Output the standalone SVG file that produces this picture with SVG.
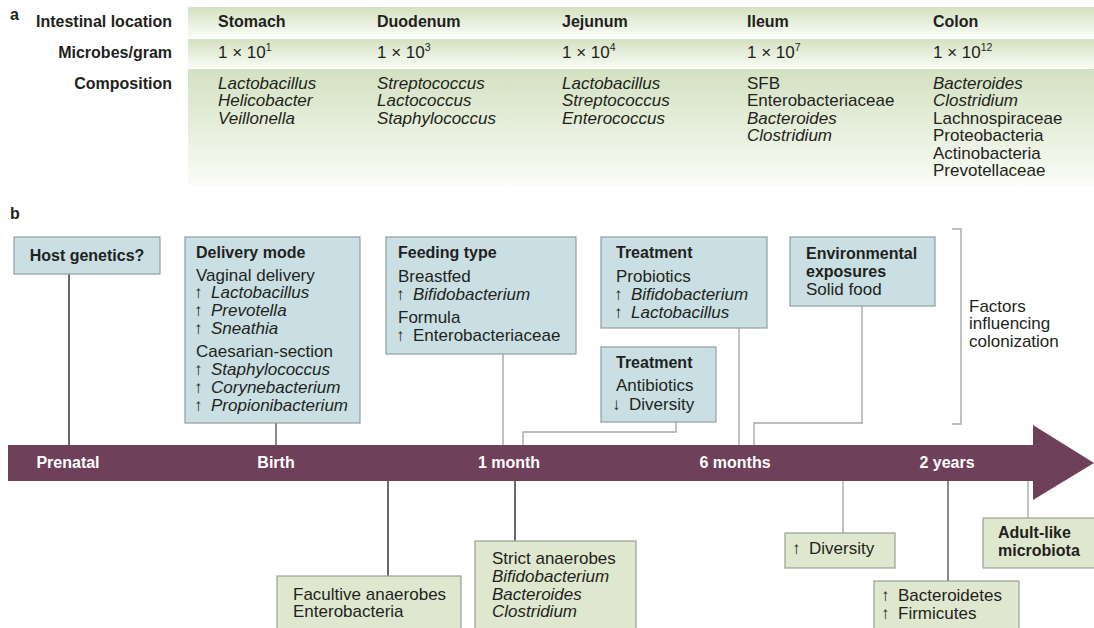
<svg xmlns="http://www.w3.org/2000/svg" width="1094" height="628" viewBox="0 0 1094 628">
<defs>
<linearGradient id="rowg" x1="0" y1="0" x2="0" y2="1">
<stop offset="0" stop-color="#d3e1c1"/>
<stop offset="1" stop-color="#fafcf6"/>
</linearGradient>
<style>
text{font-family:"Liberation Sans",Arial,sans-serif;fill:#231f20;font-size:17px}
.b{font-weight:bold;font-size:16px}
.i{font-style:italic}
.r{text-anchor:end}
.c{text-anchor:middle}
.w{fill:#ffffff;font-weight:bold;font-size:16px}
.sup{font-size:10.5px}
.ar{font-size:17px}
.blue{fill:#c9dfe3;stroke:#8e9ea2;stroke-width:1.2}
.green{fill:#dfe8cf;stroke:#9aa092;stroke-width:1.2}
.dk{stroke:#2a2a2a;stroke-width:1.4;fill:none}
.md{stroke:#5a5a5a;stroke-width:1.4;fill:none}
.lt{stroke:#a8a8a8;stroke-width:1.4;fill:none}
</style>
</defs>
<rect width="1094" height="628" fill="#ffffff"/>

<g id="panel-a">
<text x="10" y="20" class="b" font-size="16">a</text>
<rect x="188" y="7" width="906" height="30" fill="url(#rowg)"/>
<rect x="188" y="39" width="906" height="29" fill="url(#rowg)"/>
<rect x="188" y="69" width="906" height="116" fill="url(#rowg)"/>
<text x="172" y="27" class="b r">Intestinal location</text>
<text x="172" y="58" class="b r">Microbes/gram</text>
<text x="172" y="89" class="b r">Composition</text>
<text x="218" y="27" class="b">Stomach</text>
<text x="377" y="27" class="b">Duodenum</text>
<text x="562" y="27" class="b">Jejunum</text>
<text x="747" y="27" class="b">Ileum</text>
<text x="933" y="27" class="b">Colon</text>
<text x="218" y="58">1 × 10<tspan class="sup" dy="-7">1</tspan></text>
<text x="377" y="58">1 × 10<tspan class="sup" dy="-7">3</tspan></text>
<text x="562" y="58">1 × 10<tspan class="sup" dy="-7">4</tspan></text>
<text x="747" y="58">1 × 10<tspan class="sup" dy="-7">7</tspan></text>
<text x="933" y="58">1 × 10<tspan class="sup" dy="-7">12</tspan></text>
<text x="218" y="89" class="i">Lactobacillus</text>
<text x="218" y="106" class="i">Helicobacter</text>
<text x="218" y="124" class="i">Veillonella</text>
<text x="377" y="89" class="i">Streptococcus</text>
<text x="377" y="106" class="i">Lactococcus</text>
<text x="377" y="124" class="i">Staphylococcus</text>
<text x="562" y="89" class="i">Lactobacillus</text>
<text x="562" y="106" class="i">Streptococcus</text>
<text x="562" y="124" class="i">Enterococcus</text>
<text x="747" y="89">SFB</text>
<text x="747" y="106">Enterobacteriaceae</text>
<text x="747" y="124" class="i">Bacteroides</text>
<text x="747" y="141" class="i">Clostridium</text>
<text x="933" y="89" class="i">Bacteroides</text>
<text x="933" y="106" class="i">Clostridium</text>
<text x="933" y="124">Lachnospiraceae</text>
<text x="933" y="141">Proteobacteria</text>
<text x="933" y="159">Actinobacteria</text>
<text x="933" y="176">Prevotellaceae</text>
</g>

<text x="10" y="219" class="b">b</text>

<g id="connectors">
<line x1="69" y1="274" x2="69" y2="446" class="dk"/>
<line x1="276" y1="423" x2="276" y2="446" class="md"/>
<line x1="503" y1="354" x2="503" y2="446" class="lt"/>
<polyline points="676,422 676,432 523,432 523,446" class="lt"/>
<line x1="739" y1="328" x2="739" y2="446" class="lt"/>
<polyline points="862,306 862,423 754,423 754,446" class="lt"/>
<polyline points="952,229 961,229 961,424 952,424" class="lt"/>
<line x1="388" y1="481" x2="388" y2="576" class="dk"/>
<line x1="515" y1="481" x2="515" y2="541" class="dk"/>
<line x1="843" y1="481" x2="843" y2="533" class="lt"/>
<line x1="948" y1="481" x2="948" y2="581" class="md"/>
<line x1="1028" y1="481" x2="1028" y2="518" class="lt"/>
</g>

<g id="timeline">
<rect x="8" y="445" width="1026" height="36" fill="#6e405a"/>
<polygon points="1033,425 1094,463 1033,500" fill="#6e405a"/>
<text x="68" y="468" class="w c">Prenatal</text>
<text x="276" y="468" class="w c">Birth</text>
<text x="509" y="468" class="w c">1 month</text>
<text x="735" y="468" class="w c">6 months</text>
<text x="947" y="468" class="w c">2 years</text>
</g>

<g id="host-genetics">
<rect x="14" y="237" width="146" height="37" class="blue"/>
<text x="87" y="261" class="b c">Host genetics?</text>
</g>

<g id="delivery-mode">
<rect x="185" y="237" width="175" height="186" class="blue"/>
<text x="196" y="258" class="b">Delivery mode</text>
<text x="196" y="281">Vaginal delivery</text>
<text x="194" y="298" class="ar">↑</text><text x="211" y="298" class="i">Lactobacillus</text>
<text x="194" y="316" class="ar">↑</text><text x="211" y="316" class="i">Prevotella</text>
<text x="194" y="334" class="ar">↑</text><text x="211" y="334" class="i">Sneathia</text>
<text x="196" y="357">Caesarian-section</text>
<text x="194" y="375" class="ar">↑</text><text x="211" y="375" class="i">Staphylococcus</text>
<text x="194" y="393" class="ar">↑</text><text x="211" y="393" class="i">Corynebacterium</text>
<text x="194" y="411" class="ar">↑</text><text x="211" y="411" class="i">Propionibacterium</text>
</g>

<g id="feeding-type">
<rect x="386" y="237" width="190" height="117" class="blue"/>
<text x="398" y="258" class="b">Feeding type</text>
<text x="398" y="282">Breastfed</text>
<text x="396" y="300" class="ar">↑</text><text x="413" y="300" class="i">Bifidobacterium</text>
<text x="398" y="323">Formula</text>
<text x="396" y="341" class="ar">↑</text><text x="413" y="341">Enterobacteriaceae</text>
</g>

<g id="treatment-probiotics">
<rect x="601" y="237" width="166" height="91" class="blue"/>
<text x="616" y="258" class="b">Treatment</text>
<text x="616" y="282">Probiotics</text>
<text x="614" y="300" class="ar">↑</text><text x="631" y="300" class="i">Bifidobacterium</text>
<text x="614" y="318" class="ar">↑</text><text x="631" y="318" class="i">Lactobacillus</text>
</g>

<g id="treatment-antibiotics">
<rect x="601" y="347" width="115" height="75" class="blue"/>
<text x="616" y="368" class="b">Treatment</text>
<text x="616" y="391">Antibiotics</text>
<text x="612" y="410" class="ar">↓</text><text x="629" y="410">Diversity</text>
</g>

<g id="environmental-exposures">
<rect x="790" y="237" width="145" height="69" class="blue"/>
<text x="806" y="259" class="b">Environmental</text>
<text x="806" y="277" class="b">exposures</text>
<text x="806" y="295">Solid food</text>
</g>

<g id="factors-label">
<text x="969" y="312">Factors</text>
<text x="969" y="329">influencing</text>
<text x="969" y="347">colonization</text>
</g>

<g id="facultive-anaerobes">
<rect x="277" y="576" width="184" height="60" class="green"/>
<text x="293" y="600">Facultive anaerobes</text>
<text x="293" y="617">Enterobacteria</text>
</g>

<g id="strict-anaerobes">
<rect x="475" y="541" width="161" height="95" class="green"/>
<text x="492" y="564">Strict anaerobes</text>
<text x="492" y="582" class="i">Bifidobacterium</text>
<text x="492" y="600" class="i">Bacteroides</text>
<text x="492" y="617" class="i">Clostridium</text>
</g>

<g id="diversity">
<rect x="785" y="533" width="110" height="35" class="green"/>
<text x="792" y="554" class="ar">↑</text><text x="809" y="554">Diversity</text>
</g>

<g id="bacteroidetes-firmicutes">
<rect x="874" y="581" width="145" height="60" class="green"/>
<text x="881" y="601" class="ar">↑</text><text x="898" y="601">Bacteroidetes</text>
<text x="881" y="619" class="ar">↑</text><text x="898" y="619">Firmicutes</text>
</g>

<g id="adult-like">
<rect x="983" y="518" width="120" height="50" class="green"/>
<text x="998" y="538" class="b">Adult-like</text>
<text x="998" y="556" class="b">microbiota</text>
</g>
</svg>
